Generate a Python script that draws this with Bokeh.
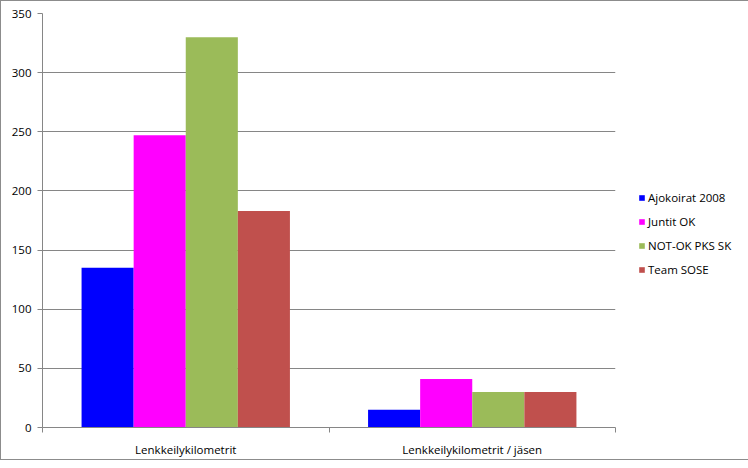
from bokeh.plotting import figure
from bokeh.models import Range1d, FixedTicker, Legend, LegendItem, ColumnDataSource
from bokeh.embed import file_html
from bokeh.resources import INLINE

categories = ["Lenkkeilykilometrit", "Lenkkeilykilometrit / jäsen"]
series_names = ["Ajokoirat 2008", "Juntit OK", "NOT-OK PKS SK", "Team SOSE"]
ajokoirat_2008 = [135, 15]
juntit_ok = [247, 41]
not_ok_pks_sk = [330, 30]
team_sose = [183, 30]
series_values = [ajokoirat_2008, juntit_ok, not_ok_pks_sk, team_sose]
colors = ["#0000FF", "#FF00FF", "#9BBB59", "#C0504D"]
y_ticks = [0, 50, 100, 150, 200, 250, 300, 350]

FONT = "Open Sans"
FS = "11.5px"
GRID = "#868686"

n_series = len(series_names)
bar_w = 1.0 / (n_series + 1.5)  # Excel gap width 150%

p = figure(
    frame_width=573, frame_height=414,
    min_border_left=41, min_border_right=126, min_border_top=12, min_border_bottom=26,
    x_range=Range1d(0, len(categories)), y_range=Range1d(0, 350),
    output_backend="svg", toolbar_location=None,
    background_fill_color="white", border_fill_color="white",
)
p.outline_line_color = None
p.styles = {"border": "1px solid #8c8c8c"}

items = []
for i, (name, vals, col) in enumerate(zip(series_names, series_values, colors)):
    xs = [c + 0.5 + (i - (n_series - 1) / 2) * bar_w for c in range(len(categories))]
    src = ColumnDataSource(dict(x=xs, top=vals))
    r = p.vbar(x="x", top="top", bottom=0, width=bar_w, source=src,
               fill_color=col, line_color=None)
    items.append(LegendItem(label=name, renderers=[r]))

# x axis
centers = [c + 0.5 for c in range(len(categories))]
bounds = list(range(len(categories) + 1))
p.xaxis.ticker = FixedTicker(ticks=centers, minor_ticks=bounds)
p.xaxis.major_label_overrides = {c: lab for c, lab in zip(centers, categories)}
p.xaxis.major_tick_out = 0
p.xaxis.major_tick_in = 0
p.xaxis.minor_tick_out = 5
p.xaxis.minor_tick_in = 0
p.xaxis.minor_tick_line_color = GRID
p.xaxis.axis_line_color = GRID
p.xaxis.major_label_standoff = 9
p.xaxis.major_label_text_font = FONT
p.xaxis.major_label_text_font_size = FS
p.xaxis.major_label_text_color = "black"

# y axis
p.yaxis.ticker = FixedTicker(ticks=y_ticks, minor_ticks=[])
p.yaxis.major_tick_out = 5
p.yaxis.major_tick_in = 0
p.yaxis.major_tick_line_color = GRID
p.yaxis.axis_line_color = GRID
p.yaxis.major_label_standoff = 6
p.yaxis.major_label_text_font = FONT
p.yaxis.major_label_text_font_size = FS
p.yaxis.major_label_text_color = "black"

p.xgrid.grid_line_color = None
p.ygrid.grid_line_color = GRID
p.ygrid.grid_line_width = 1

legend = Legend(items=items, location=(23, 150))
legend.glyph_width = 7
legend.glyph_height = 7
legend.label_height = 16
legend.spacing = 8
legend.padding = 0
legend.margin = 0
legend.label_standoff = 3
legend.border_line_color = None
legend.background_fill_alpha = 0
legend.label_text_font = FONT
legend.label_text_font_size = FS
legend.label_text_color = "black"
p.add_layout(legend, "right")

open("out.html", "w").write(file_html(p, INLINE))
